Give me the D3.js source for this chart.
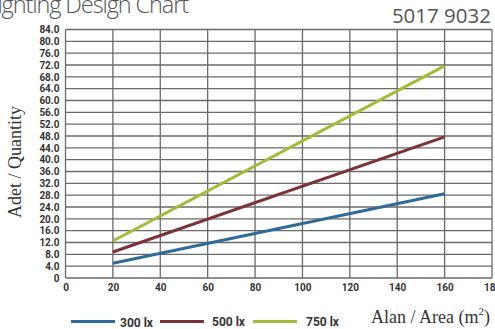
<!DOCTYPE html>
<html><head><meta charset="utf-8">
<script src="https://cdn.jsdelivr.net/npm/d3@7"></script>
<style>
html,body{margin:0;padding:0;background:#fff;overflow:hidden;}
svg{display:block;}
</style></head>
<body>
<script>
const areas = [20, 160];
const series = [
  {name: "300 lx", values: [5, 28.5]},
  {name: "500 lx", values: [8.8, 47.7]},
  {name: "750 lx", values: [12.5, 71.7]}
];
const colors = ["#2f6b97", "#7b3338", "#a5b93a"];
const yTicks = d3.range(0, 85, 4);
const xTicks = d3.range(0, 181, 20);
const titleText = "Lighting Design Chart";
const codeText = "5017 9032";

const W = 495, H = 329;
const svg = d3.select("body").append("svg").attr("width", W).attr("height", H);
const x = d3.scaleLinear().domain([0, 180]).range([65.5, 492]);
const y = d3.scaleLinear().domain([0, 84]).range([278, 29.5]);

// title (cut off at top-left like reference)
svg.append("text").attr("x", 188).attr("y", 13).attr("text-anchor", "end")
  .attr("font-family", "Open Sans").attr("font-weight", 300).attr("font-size", 23.5)
  .attr("letter-spacing", -1.1)
  .attr("fill", "#555").text(titleText);
svg.append("text").attr("x", 491).attr("y", 23).attr("text-anchor", "end")
  .attr("font-family", "Open Sans").attr("font-weight", 400).attr("font-size", 20.5)
  .attr("fill", "#555").text(codeText);

// grid
const g = svg.append("g");
g.selectAll("line.h").data(yTicks).join("line").attr("class", "h")
  .attr("x1", x(0)).attr("x2", x(180)).attr("y1", d => y(d)).attr("y2", d => y(d))
  .attr("stroke", "#6a6a6a").attr("stroke-width", 1.3);
g.selectAll("line.v").data(xTicks).join("line").attr("class", "v")
  .attr("x1", d => x(d)).attr("x2", d => x(d)).attr("y1", y(0)).attr("y2", y(84))
  .attr("stroke", "#6a6a6a").attr("stroke-width", 1.3);

// axes (labels only)
const tickFont = "Roboto";
const yAxis = svg.append("g").attr("transform", `translate(${x(0)},0)`)
  .call(d3.axisLeft(y).tickValues(yTicks).tickSize(0).tickPadding(6)
    .tickFormat(d => d === 0 ? "0" : d.toFixed(1)));
yAxis.select(".domain").remove();
yAxis.selectAll("text").attr("font-family", tickFont).attr("font-weight", 700)
  .attr("font-size", 10).attr("fill", "#333");

const xAxis = svg.append("g").attr("transform", `translate(0,${y(0)})`)
  .call(d3.axisBottom(x).tickValues(xTicks).tickSize(0).tickPadding(6)
    .tickFormat(d => String(d)));
xAxis.select(".domain").remove();
xAxis.selectAll("text").attr("font-family", tickFont).attr("font-weight", 700)
  .attr("font-size", 10).attr("fill", "#333");

// series lines
const line = d3.line().x((d, i) => x(areas[i])).y(d => y(d));
svg.selectAll("path.s").data(series).join("path").attr("class", "s")
  .attr("d", d => line(d.values)).attr("fill", "none")
  .attr("stroke", (d, i) => colors[i]).attr("stroke-width", 3);

// axis titles
svg.append("text").attr("transform", "translate(21,162) rotate(-90)")
  .attr("text-anchor", "middle").attr("font-family", "Liberation Serif")
  .attr("font-size", 18).attr("fill", "#333").text("Adet / Quantity");
const at = svg.append("text").attr("x", 371).attr("y", 323)
  .attr("font-family", "Liberation Serif").attr("font-size", 18).attr("fill", "#333");
at.append("tspan").text("Alan / Area (m");
at.append("tspan").attr("font-size", 11).attr("dy", -8).text("2");
at.append("tspan").attr("dy", 8).text(")");

// legend
const legX = [71, 160, 253];
const legText = [120, 212, 306];
const lg = svg.append("g");
series.forEach((s, i) => {
  lg.append("line").attr("x1", legX[i]).attr("x2", legX[i] + 44)
    .attr("y1", 321.5).attr("y2", 321.5).attr("stroke", colors[i]).attr("stroke-width", 3);
  lg.append("text").attr("x", legText[i]).attr("y", i === 0 ? 327 : 325.5)
    .attr("font-family", tickFont).attr("font-weight", 700).attr("font-size", 12)
    .attr("fill", "#333").text(s.name);
});
</script>
</body></html>
